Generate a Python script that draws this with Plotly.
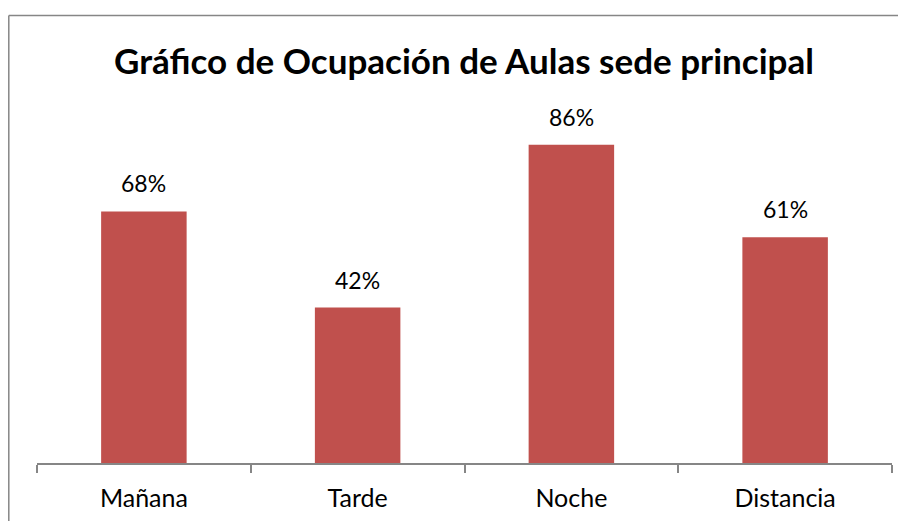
import plotly.graph_objects as go

categories = ["Mañana", "Tarde", "Noche", "Distancia"]
values = [68, 42, 86, 61]
labels = ["68%", "42%", "86%", "61%"]
title_text = "Gráfico de Ocupación de Aulas sede principal"

BAR = "#C0504D"
GRID = "#868686"
FONT = "Lato"

fig = go.Figure(go.Bar(x=categories, y=values, marker=dict(color=BAR, line=dict(width=0)),
                       hoverinfo="skip"))

for c, v, t in zip(categories, values, labels):
    fig.add_annotation(x=c, y=v, text=t, showarrow=False, yanchor="bottom",
                       yshift=12, font=dict(family=FONT, size=23, color="#000000"))

# page has an 8px body margin; positions below are in figure coordinates
W, H = 890, 513
L, T = 29, 85
R = W - 884
B = H - 455
pw, ph = W - L - R, H - T - B
fx0 = (0.8 - L) / pw
fy1 = (H - B - 7.5) / ph
fx1 = (W - L) / pw
fy0 = -B / ph
# chart frame: left and top edges (right/bottom run off the view)
fig.add_shape(type="line", xref="paper", yref="paper", x0=fx0, x1=fx0, y0=fy0, y1=fy1,
              line=dict(color=GRID, width=1.5), layer="below")
fig.add_shape(type="line", xref="paper", yref="paper", x0=fx0, x1=fx1, y0=fy1, y1=fy1,
              line=dict(color=GRID, width=1.5), layer="below")

fig.update_layout(
    width=W, height=H,
    margin=dict(l=L, r=R, t=T, b=B),
    paper_bgcolor="white", plot_bgcolor="white",
    bargap=0.6,
    showlegend=False,
    title=dict(text="<b>" + title_text + "</b>", x=(464 - 8) / W, xanchor="center",
               y=1 - 54 / H, yanchor="middle",
               font=dict(family=FONT, size=35, color="#000000")),
    xaxis=dict(showline=True, linecolor=GRID, linewidth=1.5, ticks="outside",
               tickson="boundaries", ticklen=8, tickcolor=GRID, tickwidth=1.5,
               showgrid=False, range=[-0.5, 3.5], ticklabelstandoff=12,
               tickfont=dict(family=FONT, size=25, color="#000000")),
    yaxis=dict(visible=False, range=[0, 100], showgrid=False),
)

fig.write_html("out.html")
